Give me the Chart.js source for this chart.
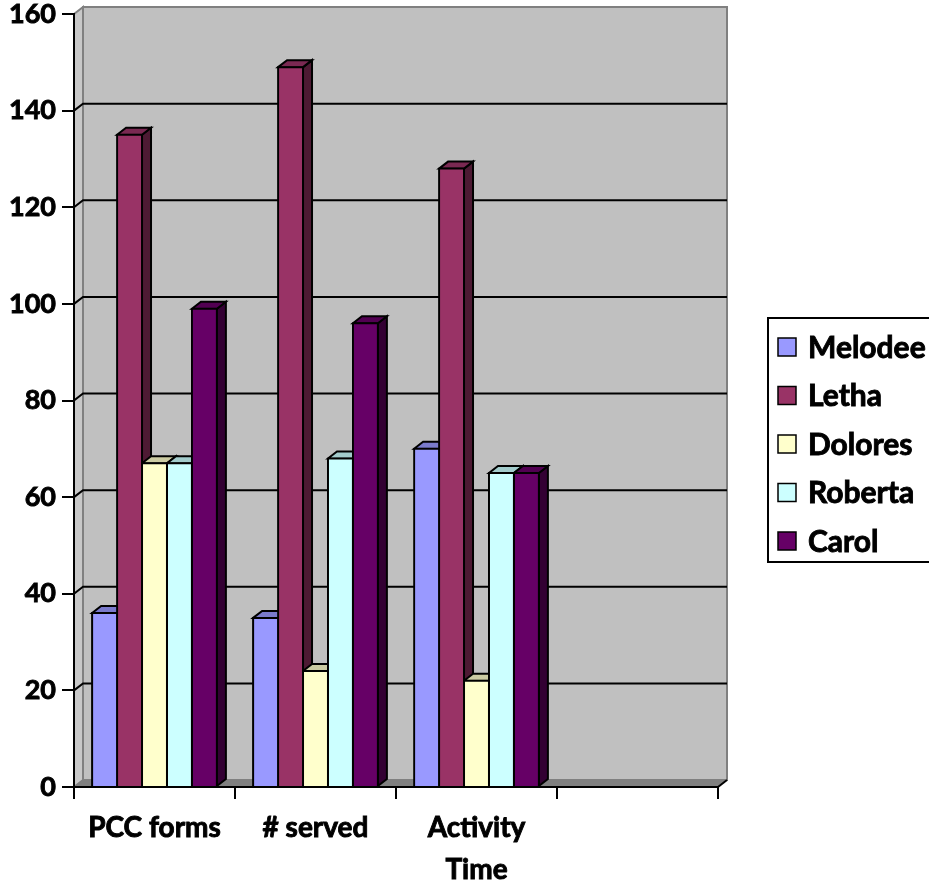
<!DOCTYPE html>
<html>
<head>
<meta charset="utf-8">
<script src="https://cdn.jsdelivr.net/npm/chart.js@4.4.1/dist/chart.umd.min.js"></script>
<style>
  html, body { margin: 0; padding: 0; background: #ffffff; }
  canvas { display: block; }
</style>
</head>
<body>
<canvas id="chart" width="929" height="886"></canvas>
<script>
// Categories along the x axis (the last slot is left empty)
const categories = ["PCC forms", "# served", ["Activity", "Time"], ""];
const seriesNames = ["Melodee", "Letha", "Dolores", "Roberta", "Carol"];

// Values per person, one per filled category
const melodee = [36, 35, 70];
const letha   = [135, 149, 128];
const dolores = [67, 24, 22];
const roberta = [67, 68, 65];
const carol   = [99, 96, 65];

// Value axis
const yMin = 0, yMax = 160, yStep = 20;

// Face colours: front, top, side
const frontColors = ["#9999FF", "#993366", "#FFFFCC", "#CCFFFF", "#660066"];
const topColors   = ["#7A7ACC", "#7A2952", "#CCCCA3", "#A3CCCC", "#520052"];
const sideColors  = ["#4D4D80", "#4D1A33", "#808066", "#668080", "#330033"];

const DEPTH_X = 9, DEPTH_Y = 7;
const FONT = "Lato, 'Open Sans', sans-serif";
const WEIGHT = 'bold';
const TEXT_STROKE = 0.9;

// Back wall, side wall, floor and gridlines on the back wall
const wallsPlugin = {
  id: 'walls',
  beforeDraw(chart) {
    const { ctx, chartArea: a, scales: { y } } = chart;
    ctx.save();
    // floor
    ctx.fillStyle = '#808080';
    ctx.beginPath();
    ctx.moveTo(a.left, a.bottom);
    ctx.lineTo(a.left + DEPTH_X, a.bottom - DEPTH_Y);
    ctx.lineTo(a.right + DEPTH_X, a.bottom - DEPTH_Y);
    ctx.lineTo(a.right, a.bottom);
    ctx.closePath();
    ctx.fill();
    // side wall
    ctx.fillStyle = '#C8C8C8';
    ctx.beginPath();
    ctx.moveTo(a.left, a.top);
    ctx.lineTo(a.left + DEPTH_X, a.top - DEPTH_Y);
    ctx.lineTo(a.left + DEPTH_X, a.bottom - DEPTH_Y);
    ctx.lineTo(a.left, a.bottom);
    ctx.closePath();
    ctx.fill();
    ctx.strokeStyle = '#808080';
    ctx.lineWidth = 2;
    ctx.stroke();
    // back wall
    ctx.fillStyle = '#C0C0C0';
    ctx.fillRect(a.left + DEPTH_X, a.top - DEPTH_Y, a.right - a.left, a.bottom - a.top);
    ctx.strokeRect(a.left + DEPTH_X, a.top - DEPTH_Y, a.right - a.left, a.bottom - a.top);
    // floor right edge
    ctx.strokeStyle = '#000';
    ctx.beginPath();
    ctx.moveTo(a.right, a.bottom);
    ctx.lineTo(a.right + DEPTH_X, a.bottom - DEPTH_Y);
    ctx.stroke();
    // gridlines
    ctx.strokeStyle = '#000';
    ctx.lineWidth = 2;
    y.ticks.forEach(t => {
      if (t.value <= yMin || t.value >= yMax) return;
      const py = y.getPixelForValue(t.value);
      ctx.beginPath();
      ctx.moveTo(a.left, py);
      ctx.lineTo(a.left + DEPTH_X, py - DEPTH_Y);
      ctx.lineTo(a.right + DEPTH_X, py - DEPTH_Y);
      ctx.stroke();
    });
    ctx.restore();
  }
};

// Side and top faces of each column, drawn left to right before the fronts
const facesPlugin = {
  id: 'faces',
  beforeDatasetsDraw(chart) {
    const ctx = chart.ctx;
    ctx.save();
    ctx.lineWidth = 2;
    ctx.strokeStyle = '#000';
    ctx.lineJoin = 'miter';
    const nCat = chart.data.labels.length;
    for (let j = 0; j < nCat; j++) {
      chart.data.datasets.forEach((ds, i) => {
        const bar = chart.getDatasetMeta(i).data[j];
        if (!bar) return;
        const { x, y, base, width } = bar.getProps(['x', 'y', 'base', 'width'], true);
        if (isNaN(y)) return;
        const l = x - width / 2, r = x + width / 2;
        // side
        ctx.fillStyle = sideColors[i];
        ctx.beginPath();
        ctx.moveTo(r, y);
        ctx.lineTo(r + DEPTH_X, y - DEPTH_Y);
        ctx.lineTo(r + DEPTH_X, base - DEPTH_Y);
        ctx.lineTo(r, base);
        ctx.closePath();
        ctx.fill();
        ctx.stroke();
        // top
        ctx.fillStyle = topColors[i];
        ctx.beginPath();
        ctx.moveTo(l, y);
        ctx.lineTo(l + DEPTH_X, y - DEPTH_Y);
        ctx.lineTo(r + DEPTH_X, y - DEPTH_Y);
        ctx.lineTo(r, y);
        ctx.closePath();
        ctx.fill();
        ctx.stroke();
      });
    }
    ctx.restore();
  }
};

// Boxed legend at the right
const legendPlugin = {
  id: 'boxLegend',
  afterDraw(chart) {
    const ctx = chart.ctx;
    const box = { x: 768, y: 318, w: 175, h: 244 };
    ctx.save();
    ctx.fillStyle = '#fff';
    ctx.fillRect(box.x, box.y, box.w, box.h);
    ctx.strokeStyle = '#000';
    ctx.lineWidth = 2;
    ctx.strokeRect(box.x, box.y, box.w, box.h);
    ctx.font = `${WEIGHT} 30px ${FONT}`;
    ctx.textBaseline = 'middle';
    ctx.textAlign = 'left';
    chart.data.datasets.forEach((ds, i) => {
      const cy = 347 + i * 48.5;
      ctx.fillStyle = ds.backgroundColor;
      ctx.fillRect(778, cy - 9, 18, 18);
      ctx.lineWidth = 1.5;
      ctx.strokeRect(778, cy - 9, 18, 18);
      ctx.fillStyle = '#000';
      ctx.fillText(ds.label, 808, cy + 1);
      ctx.lineWidth = TEXT_STROKE;
      ctx.strokeText(ds.label, 808, cy + 1);
    });
    ctx.restore();
  }
};

const seriesValues = [melodee, letha, dolores, roberta, carol];

new Chart(document.getElementById('chart'), {
  type: 'bar',
  data: {
    labels: categories,
    datasets: seriesNames.map((name, i) => ({
      label: name,
      data: seriesValues[i],
      backgroundColor: frontColors[i],
      borderColor: '#000',
      borderWidth: 2,
      borderSkipped: 'bottom',
      inflateAmount: 1,
      barPercentage: 1,
      categoryPercentage: 0.775
    }))
  },
  options: {
    responsive: false,
    animation: false,
    events: [],
    layout: { padding: { top: 14, right: 211, left: 0, bottom: 0 } },
    plugins: {
      legend: { display: false },
      tooltip: { enabled: false }
    },
    scales: {
      x: {
        offset: true,
        grid: { display: true, drawOnChartArea: false, offset: true, tickLength: 12, color: '#000', lineWidth: 2 },
        border: { display: true, color: '#000', width: 2 },
        ticks: {
          color: '#000',
          textStrokeColor: '#000',
          textStrokeWidth: TEXT_STROKE,
          padding: 8,
          maxRotation: 0,
          autoSkip: false,
          font: { family: FONT, size: 28, weight: WEIGHT, lineHeight: 1.5 }
        },
        afterFit(scale) { scale.height = 99; }
      },
      y: {
        min: yMin,
        max: yMax,
        grid: { drawOnChartArea: false, tickLength: 12, color: '#000', lineWidth: 2 },
        border: { display: true, color: '#000', width: 2 },
        ticks: {
          stepSize: yStep,
          color: '#000',
          textStrokeColor: '#000',
          textStrokeWidth: TEXT_STROKE,
          padding: 6,
          font: { family: FONT, size: 27, weight: WEIGHT, lineHeight: 0.5 }
        },
        afterFit(scale) { scale.width = 74; }
      }
    }
  },
  plugins: [wallsPlugin, facesPlugin, legendPlugin]
});
</script>
</body>
</html>
